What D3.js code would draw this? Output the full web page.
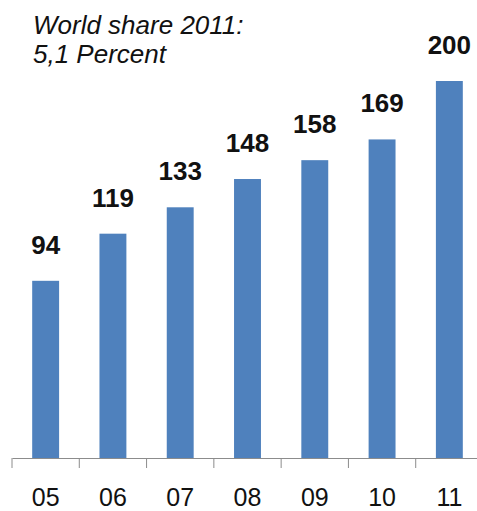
<!DOCTYPE html>
<html>
<head>
<meta charset="utf-8">
<script src="https://cdn.jsdelivr.net/npm/d3@7"></script>
<style>
  body { margin: 0; background: #fff; }
  svg { display: block; }
</style>
</head>
<body>
<div id="chart"></div>
<script>
// data
const years = ['05', '06', '07', '08', '09', '10', '11'];
const values = [94, 119, 133, 148, 158, 169, 200];
const titleLines = ['World share 2011:', '5,1 Percent'];

const width = 477, height = 511;
const baseY = 458;

const svg = d3.select('#chart').append('svg')
    .attr('width', width)
    .attr('height', height);

const x = d3.scaleBand()
    .domain(years)
    .range([12, 483])
    .paddingInner(0.6)
    .paddingOuter(0.3);

const y = d3.scaleLinear()
    .domain([0, 200])
    .range([baseY, 81]);

// bars
svg.selectAll('rect.bar')
    .data(values)
    .join('rect')
    .attr('class', 'bar')
    .attr('x', (d, i) => x(years[i]))
    .attr('y', d => y(d))
    .attr('width', x.bandwidth())
    .attr('height', d => baseY - y(d))
    .attr('fill', '#4F81BD');

// value labels
svg.selectAll('text.val')
    .data(values)
    .join('text')
    .attr('class', 'val')
    .attr('x', (d, i) => x(years[i]) + x.bandwidth() / 2)
    .attr('y', d => y(d) - 27)
    .attr('text-anchor', 'middle')
    .style('font-family', '"Liberation Sans", Arial, sans-serif')
    .style('font-weight', 'bold')
    .style('font-size', '26px')
    .attr('fill', '#111')
    .text(d => d);

// x axis, labels only
const axis = svg.append('g')
    .attr('transform', `translate(0,${baseY})`)
    .call(d3.axisBottom(x).tickSize(0).tickSizeOuter(0));

axis.select('.domain').attr('stroke', '#8c8c8c');
axis.selectAll('text')
    .attr('y', 48)
    .attr('dy', 0)
    .attr('fill', '#111')
    .style('font-family', '"Liberation Sans", Arial, sans-serif')
    .style('font-size', '25px');

// ticks between categories
const step = x.step();
const bounds = years.map(d => x(d) - step * 0.3).concat([x(years[years.length - 1]) + x.bandwidth() + step * 0.3]);
svg.selectAll('line.tk')
    .data(bounds)
    .join('line')
    .attr('class', 'tk')
    .attr('x1', d => d).attr('x2', d => d)
    .attr('y1', baseY).attr('y2', baseY + 10)
    .attr('stroke', '#8c8c8c')
    .attr('stroke-width', 1);

// title
svg.append('text')
    .attr('x', 33)
    .attr('y', 34)
    .style('font-family', '"Liberation Sans", Arial, sans-serif')
    .style('font-style', 'italic')
    .style('font-size', '26px')
    .attr('fill', '#111')
    .selectAll('tspan')
    .data(titleLines)
    .join('tspan')
    .attr('x', 33)
    .attr('dy', (d, i) => i === 0 ? 0 : 29)
    .text(d => d);
</script>
</body>
</html>
